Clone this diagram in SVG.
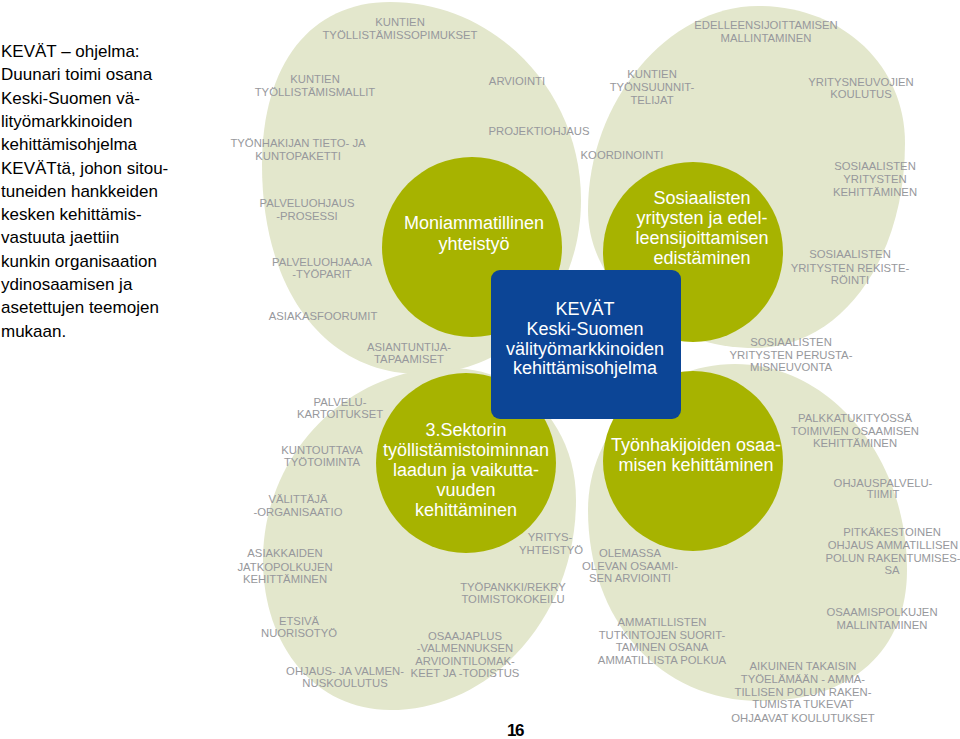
<svg xmlns="http://www.w3.org/2000/svg" width="960" height="739" viewBox="0 0 960 739">
<style>
.petal{fill:#e3e7cc}
.core{fill:#a7b300}
.lbl{font-family:"Liberation Sans",Arial,sans-serif;font-size:11.3px;fill:#97989c;text-anchor:middle}
.main{font-family:"Liberation Sans",Arial,sans-serif;font-size:18px;fill:#ffffff;text-anchor:middle}
.intro{font-family:"Liberation Sans",Arial,sans-serif;font-size:17px;fill:#000000}
</style>
<rect width="960" height="739" fill="#ffffff"/>
<g id="intro" class="intro">
<text x="1" y="57">KEVÄT – ohjelma:</text>
<text x="1" y="80.3">Duunari toimi osana</text>
<text x="1" y="103.6">Keski-Suomen vä-</text>
<text x="1" y="126.9">lityömarkkinoiden</text>
<text x="1" y="150.2">kehittämisohjelma</text>
<text x="1" y="173.5">KEVÄTtä, johon sitou-</text>
<text x="1" y="196.8">tuneiden hankkeiden</text>
<text x="1" y="220.1">kesken kehittämis-</text>
<text x="1" y="243.4">vastuuta jaettiin</text>
<text x="1" y="266.7">kunkin organisaation</text>
<text x="1" y="290">ydinosaamisen ja</text>
<text x="1" y="313.3">asetettujen teemojen</text>
<text x="1" y="336.6">mukaan.</text>
</g>
<g id="petals">
<path id="petal-tl" class="petal" d="M390,2 C495.1,2 581,91.1 581,200 C581,299.2 511.8,374 420,374 C325.2,374 262,290.4 262,165 C262,63.9 310.6,2 390,2 Z"/>
<path id="petal-tr" class="petal" d="M758,6 C841.8,6 905,64.9 905,143 C905,259.9 840.5,348 755,348 C663.2,348 588,285.9 588,210 C588,101.9 667.9,6 758,6 Z"/>
<path id="petal-bl" class="petal" d="M450,368 C521.8,368 576,424.8 576,500 C576,615.5 492.3,710 390,710 C316.3,710 263,647 263,560 C263,454.4 347.2,368 450,368 Z"/>
<path id="petal-br" class="petal" d="M735,364 C829.6,364 907,456.7 907,570 C907,651.2 851.1,701 760,701 C660.2,701 588,620.8 588,510 C588,429.7 654.2,364 735,364 Z"/>
</g>
<g id="connectors"></g>
<g id="node-moniammatillinen">
<circle class="core" cx="472" cy="247" r="90"/>
<text class="main" x="474" y="229">Moniammatillinen</text>
<text class="main" x="474" y="250">yhteistyö</text>
</g>
<g id="node-sosiaalisten">
<circle class="core" cx="693" cy="252" r="90"/>
<text class="main" x="702" y="204">Sosiaalisten</text>
<text class="main" x="702" y="224">yritysten ja edel-</text>
<text class="main" x="702" y="244">leensijoittamisen</text>
<text class="main" x="702" y="264">edistäminen</text>
</g>
<g id="node-sektori">
<circle class="core" cx="466" cy="463" r="90"/>
<text class="main" x="466" y="436">3.Sektorin</text>
<text class="main" x="466" y="456">työllistämistoiminnan</text>
<text class="main" x="466" y="476">laadun ja vaikutta-</text>
<text class="main" x="466" y="496">vuuden</text>
<text class="main" x="466" y="516">kehittäminen</text>
</g>
<g id="node-tyonhakijat">
<circle class="core" cx="693" cy="461" r="90"/>
<text class="main" x="696" y="451">Työnhakijoiden osaa-</text>
<text class="main" x="696" y="471">misen kehittäminen</text>
</g>
<g id="node-kevat">
<rect x="491" y="270" width="190" height="149" rx="9" fill="#0c4596"/>
<text class="main" x="585" y="315">KEVÄT</text>
<text class="main" x="585" y="335">Keski-Suomen</text>
<text class="main" x="585" y="355">välityömarkkinoiden</text>
<text class="main" x="585" y="374">kehittämisohjelma</text>
</g>
<g id="labels-tl" class="lbl">
<text x="400" y="26">KUNTIEN</text>
<text x="400" y="38.5">TYÖLLISTÄMISSOPIMUKSET</text>
<text x="315" y="83">KUNTIEN</text>
<text x="315" y="96">TYÖLLISTÄMISMALLIT</text>
<text x="298" y="147">TYÖNHAKIJAN TIETO- JA</text>
<text x="298" y="160">KUNTOPAKETTI</text>
<text x="307" y="207">PALVELUOHJAUS</text>
<text x="307" y="220">-PROSESSI</text>
<text x="322" y="266">PALVELUOHJAAJA</text>
<text x="322" y="278">-TYÖPARIT</text>
<text x="323" y="320">ASIAKASFOORUMIT</text>
<text x="409" y="351">ASIANTUNTIJA-</text>
<text x="409" y="363">TAPAAMISET</text>
<text x="517" y="85">ARVIOINTI</text>
<text x="539" y="135">PROJEKTIOHJAUS</text>
</g>
<g id="labels-tr" class="lbl">
<text x="652" y="78">KUNTIEN</text>
<text x="652" y="91">TYÖNSUUNNIT-</text>
<text x="652" y="104">TELIJAT</text>
<text x="622" y="159">KOORDINOINTI</text>
<text x="766" y="29">EDELLEENSIJOITTAMISEN</text>
<text x="766" y="42">MALLINTAMINEN</text>
<text x="861" y="86">YRITYSNEUVOJIEN</text>
<text x="861" y="98">KOULUTUS</text>
<text x="875" y="170">SOSIAALISTEN</text>
<text x="875" y="183">YRITYSTEN</text>
<text x="875" y="196">KEHITTÄMINEN</text>
<text x="850" y="258">SOSIAALISTEN</text>
<text x="850" y="272">YRITYSTEN REKISTE-</text>
<text x="850" y="284">RÖINTI</text>
<text x="791" y="346">SOSIAALISTEN</text>
<text x="791" y="359">YRITYSTEN PERUSTA-</text>
<text x="791" y="371">MISNEUVONTA</text>
</g>
<g id="labels-bl" class="lbl">
<text x="340" y="406">PALVELU-</text>
<text x="340" y="418">KARTOITUKSET</text>
<text x="322" y="454">KUNTOUTTAVA</text>
<text x="322" y="466">TYÖTOIMINTA</text>
<text x="298" y="503">VÄLITTÄJÄ</text>
<text x="298" y="516">-ORGANISAATIO</text>
<text x="285" y="557">ASIAKKAIDEN</text>
<text x="285" y="571">JATKOPOLKUJEN</text>
<text x="285" y="583">KEHITTÄMINEN</text>
<text x="299" y="625">ETSIVÄ</text>
<text x="299" y="637">NUORISOTYÖ</text>
<text x="345" y="675">OHJAUS- JA VALMEN-</text>
<text x="345" y="687">NUSKOULUTUS</text>
<text x="550" y="541">YRITYS-</text>
<text x="551" y="554">YHTEISTYÖ</text>
<text x="513" y="591">TYÖPANKKI/REKRY</text>
<text x="513" y="603">TOIMISTOKOKEILU</text>
<text x="465" y="640">OSAAJAPLUS</text>
<text x="465" y="652">-VALMENNUKSEN</text>
<text x="465" y="665">ARVIOINTILOMAK-</text>
<text x="465" y="677">KEET JA -TODISTUS</text>
</g>
<g id="labels-br" class="lbl">
<text x="630" y="557">OLEMASSA</text>
<text x="630" y="570">OLEVAN OSAAMI-</text>
<text x="630" y="582">SEN ARVIOINTI</text>
<text x="662" y="626">AMMATILLISTEN</text>
<text x="662" y="639">TUTKINTOJEN SUORIT-</text>
<text x="662" y="651">TAMINEN OSANA</text>
<text x="662" y="664">AMMATILLISTA POLKUA</text>
<text x="855" y="422">PALKKATUKITYÖSSÄ</text>
<text x="855" y="435">TOIMIVIEN OSAAMISEN</text>
<text x="855" y="447">KEHITTÄMINEN</text>
<text x="883" y="487">OHJAUSPALVELU-</text>
<text x="883" y="498">TIIMIT</text>
<text x="892" y="536">PITKÄKESTOINEN</text>
<text x="893" y="549">OHJAUS AMMATILLISEN</text>
<text x="893" y="562">POLUN RAKENTUMISES-</text>
<text x="892" y="574">SA</text>
<text x="882" y="616">OSAAMISPOLKUJEN</text>
<text x="882" y="629">MALLINTAMINEN</text>
<text x="803" y="670">AIKUINEN TAKAISIN</text>
<text x="803" y="683">TYÖELÄMÄÄN - AMMA-</text>
<text x="803" y="696">TILLISEN POLUN RAKEN-</text>
<text x="803" y="708">TUMISTA TUKEVAT</text>
<text x="803" y="722">OHJAAVAT KOULUTUKSET</text>
</g>
<text id="page-number" x="515" y="736" font-family="'Liberation Sans',Arial,sans-serif" font-size="17" font-weight="bold" letter-spacing="-1.5" text-anchor="middle" fill="#000000">16</text>
</svg>
